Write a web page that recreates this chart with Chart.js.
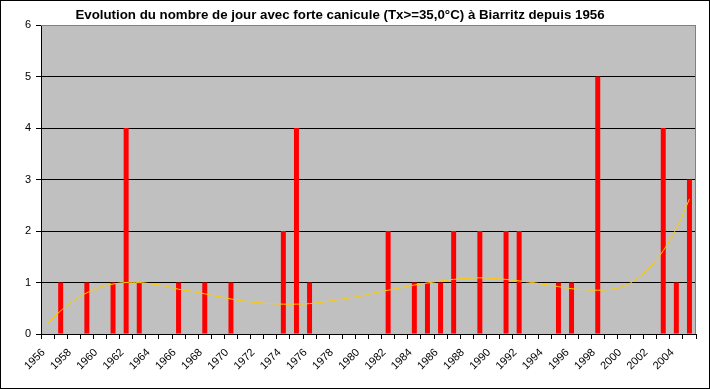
<!DOCTYPE html>
<html>
<head>
<meta charset="utf-8">
<script src="https://cdn.jsdelivr.net/npm/chart.js@4"></script>
<style>
  body { margin: 0; background: #fff; }
  #wrap { width: 710px; height: 389px; position: relative; }
</style>
</head>
<body>
<div id="wrap"><canvas id="chart" width="710" height="389"></canvas></div>
<script>
// Jours avec Tx >= 35,0°C à Biarritz, 1956-2005
const years = [
    '1956', '1957', '1958', '1959',
    '1960', '1961', '1962', '1963', '1964', '1965', '1966', '1967', '1968', '1969',
    '1970', '1971', '1972', '1973', '1974', '1975', '1976', '1977', '1978', '1979',
    '1980', '1981', '1982', '1983', '1984', '1985', '1986', '1987', '1988', '1989',
    '1990', '1991', '1992', '1993', '1994', '1995', '1996', '1997', '1998', '1999',
    '2000', '2001', '2002', '2003', '2004', '2005'
];
const days = [
    0, 1, 0, 1,
    0, 1, 4, 1, 0, 0, 1, 0, 1, 0,
    1, 0, 0, 0, 2, 4, 1, 0, 0, 0,
    0, 0, 2, 0, 1, 1, 1, 2, 0, 2,
    0, 2, 2, 0, 0, 1, 1, 0, 5, 0,
    0, 0, 0, 4, 1, 3
];
// courbe de tendance (polynomiale)
const trend = [
    0.21, 0.45, 0.65, 0.80,
    0.91, 0.97, 1.00, 1.00, 0.97, 0.93, 0.87, 0.83, 0.78, 0.73,
    0.68, 0.64, 0.61, 0.59, 0.58, 0.58, 0.59, 0.62, 0.66, 0.70,
    0.74, 0.80, 0.85, 0.90, 0.95, 0.99, 1.03, 1.06, 1.08, 1.09,
    1.08, 1.06, 1.03, 1.00, 0.96, 0.92, 0.88, 0.86, 0.85, 0.87,
    0.93, 1.08, 1.30, 1.62, 2.05, 2.62
];
const yTicks = [0, 1, 2, 3, 4, 5, 6];

const TITLE = 'Evolution du nombre de jour avec forte canicule (Tx>=35,0°C) à Biarritz depuis 1956';
const FONT = 'Arial, "Liberation Sans", sans-serif';

const frame = {
    id: 'frame',
    beforeDraw(chart) {
        const { ctx, chartArea: a } = chart;
        ctx.save();
        ctx.fillStyle = '#fff';
        ctx.fillRect(0, 0, chart.width, chart.height);
        ctx.strokeStyle = '#000';
        ctx.lineWidth = 1;
        ctx.strokeRect(0.5, 0.5, chart.width - 1, chart.height - 1);
        ctx.fillStyle = '#c0c0c0';
        ctx.fillRect(a.left, a.top, a.right - a.left, a.bottom - a.top);
        ctx.restore();
    },
    afterDraw(chart) {
        const { ctx, chartArea: a } = chart;
        ctx.save();
        ctx.strokeStyle = '#808080';
        ctx.lineWidth = 1;
        ctx.beginPath();
        ctx.moveTo(a.left, a.top + 0.5);
        ctx.lineTo(a.right - 0.5, a.top + 0.5);
        ctx.lineTo(a.right - 0.5, a.bottom);
        ctx.stroke();
        ctx.fillStyle = '#000';
        ctx.font = 'bold 13.3px ' + FONT;
        ctx.textAlign = 'center';
        ctx.textBaseline = 'middle';
        ctx.fillText(TITLE, 340, 15);
        ctx.restore();
    }
};

new Chart(document.getElementById('chart'), {
    data: {
        labels: years,
        datasets: [
            {
                type: 'line',
                data: trend,
                borderColor: '#ffcc00',
                borderWidth: 1,
                pointRadius: 0,
                tension: 0.4,
                order: 0
            },
            {
                type: 'bar',
                data: days,
                backgroundColor: '#ff0000',
                categoryPercentage: 1,
                barPercentage: 0.38,
                order: 1
            }
        ]
    },
    options: {
        responsive: false,
        animation: false,
        layout: { padding: { left: 0, top: 25, right: 14, bottom: 0 } },
        plugins: {
            legend: { display: false },
            tooltip: { enabled: false }
        },
        scales: {
            x: {
                offset: true,
                grid: {
                    offset: true,
                    drawOnChartArea: false,
                    drawTicks: true,
                    tickLength: 5,
                    color: '#000'
                },
                border: { color: '#000' },
                ticks: {
                    autoSkip: false,
                    maxRotation: 45,
                    minRotation: 45,
                    padding: 7,
                    labelOffset: -4,
                    color: '#000',
                    font: { family: FONT, size: 11 },
                    callback: (v, i) => (i % 2 === 0 ? years[i] : '')
                },
                afterFit(scale) {
                    scale.height = 55;
                    scale.paddingLeft = 0;
                    scale.paddingRight = 0;
                }
            },
            y: {
                min: 0,
                max: 6,
                afterBuildTicks(scale) {
                    scale.ticks = yTicks.map(v => ({ value: v }));
                },
                grid: {
                    color: ctx => (ctx.tick && ctx.tick.value === 6 ? '#808080' : '#000'),
                    tickLength: 5,
                    tickColor: '#000'
                },
                border: { color: '#000' },
                ticks: {
                    padding: 5,
                    color: '#000',
                    font: { family: FONT, size: 11 }
                },
                afterFit(scale) {
                    scale.width = 41;
                    scale.paddingTop = 0;
                    scale.paddingBottom = 0;
                }
            }
        }
    },
    plugins: [frame]
});
</script>
</body>
</html>
